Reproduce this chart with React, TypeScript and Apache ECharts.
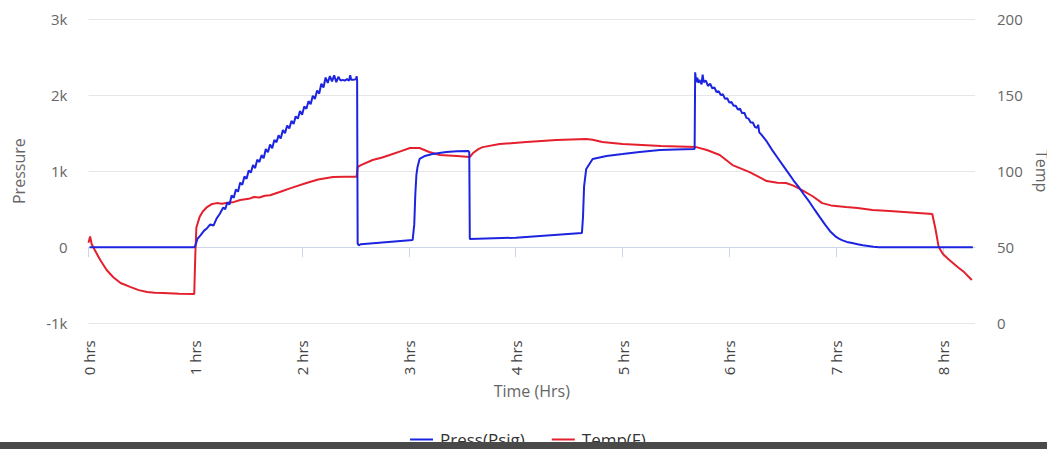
import React, { useEffect, useRef } from "react";
import * as echarts from "echarts";

const xTicks = [0, 1, 2, 3, 4, 5, 6, 7, 8];
const pressTicks = [-1000, 0, 1000, 2000, 3000];
const tempTicks = [0, 50, 100, 150, 200];

const pressHours = [
  0.01, 0.99, 1.0, 1.02, 1.05, 1.08, 1.11, 1.14, 1.17, 1.2, 1.23, 1.26, 1.28, 1.3, 1.32, 1.34, 1.36, 1.38, 1.4,
  1.42, 1.44, 1.46, 1.48, 1.5, 1.52, 1.54, 1.56, 1.58, 1.6, 1.62, 1.64, 1.66, 1.68, 1.7, 1.72, 1.74, 1.76, 1.78,
  1.8, 1.82, 1.84, 1.86, 1.88, 1.9, 1.92, 1.94, 1.96, 1.98, 2.0, 2.02, 2.04, 2.06, 2.08, 2.1, 2.12, 2.14, 2.16,
  2.18, 2.2, 2.22, 2.24, 2.26, 2.28, 2.3, 2.32, 2.34, 2.36, 2.38, 2.4, 2.42, 2.44, 2.45, 2.46, 2.48, 2.505, 2.51,
  2.515, 2.52, 2.53, 2.55, 3.035, 3.05, 3.06, 3.07, 3.08, 3.1, 3.15, 3.22, 3.35, 3.45, 3.555, 3.565, 3.57, 4.0,
  4.62, 4.63, 4.64, 4.66, 4.72, 4.85, 5.0, 5.16, 5.35, 5.5, 5.675, 5.68, 5.69, 5.7, 5.71, 5.72, 5.74, 5.75, 5.76,
  5.78, 5.8, 5.82, 5.84, 5.86, 5.88, 5.9, 5.92, 5.94, 5.96, 5.98, 6.0, 6.02, 6.04, 6.06, 6.08, 6.1, 6.12, 6.14,
  6.16, 6.18, 6.2, 6.22, 6.24, 6.26, 6.27, 6.28, 6.3, 6.35, 6.4, 6.45, 6.5, 6.55, 6.6, 6.65, 6.7, 6.75, 6.8,
  6.85, 6.9, 6.95, 7.0, 7.03, 7.06, 7.1, 7.15, 7.2, 7.25, 7.3, 7.35, 7.4, 8.28,
];
const pressPsig = [
  0, 0, 20, 110, 160, 215, 250, 300, 285, 380, 440, 520, 500, 590, 560, 680, 650, 760, 730,
  850, 820, 930, 900, 1010, 980, 1080, 1040, 1150, 1120, 1210, 1170, 1290, 1250, 1350, 1300, 1410, 1380, 1470,
  1430, 1540, 1500, 1600, 1560, 1660, 1620, 1720, 1690, 1790, 1740, 1850, 1820, 1920, 1880, 1990, 1950, 2060, 2020,
  2150, 2100, 2230, 2160, 2250, 2180, 2260, 2170, 2240, 2190, 2200, 2190, 2210, 2190, 2260, 2200, 2200, 2210, 2250,
  2200, 50, 25, 40, 96, 300, 700, 950, 1050, 1160, 1200, 1226, 1252, 1260, 1265, 1250, 109, 125,
  188, 400, 800, 1029, 1160, 1200, 1225, 1252, 1279, 1285, 1290, 2300, 2170, 2230, 2160, 2200, 2140, 2270, 2170,
  2190, 2120, 2150, 2090, 2100, 2040, 2050, 2000, 2010, 1950, 1960, 1900, 1910, 1860, 1860, 1810, 1820, 1760, 1770,
  1700, 1690, 1640, 1640, 1580, 1570, 1610, 1510, 1480, 1390, 1280, 1180, 1080, 980, 880, 790, 690, 595, 490,
  390, 290, 200, 135, 110, 90, 70, 55, 40, 25, 15, 5, 0, 0,
];

const tempHours = [
  0.0, 0.015, 0.03, 0.06, 0.11, 0.17, 0.23, 0.3, 0.39, 0.47, 0.55, 0.62, 0.7, 0.85, 0.99, 1.0, 1.01, 1.04, 1.07,
  1.11, 1.15, 1.2, 1.25, 1.3, 1.35, 1.42, 1.5, 1.55, 1.6, 1.65, 1.7, 1.79, 1.9, 2.04, 2.15, 2.29, 2.4, 2.51, 2.52,
  2.55, 2.66, 2.75, 2.82, 2.92, 3.01, 3.1, 3.19, 3.29, 3.45, 3.57, 3.6, 3.65, 3.69, 3.85, 4.1, 4.38, 4.66, 4.72,
  4.81, 5.0, 5.36, 5.69, 5.79, 5.91, 6.03, 6.19, 6.35, 6.45, 6.53, 6.6, 6.68, 6.78, 6.87, 6.95, 7.09, 7.2, 7.34,
  7.5, 7.7, 7.9, 7.93, 7.96, 8.0, 8.06, 8.14, 8.2, 8.27,
];
const tempF = [
  53, 57, 52, 48, 41.6, 35, 30.4, 26.5, 23.9, 21.8, 20.6, 20.1, 19.9, 19.5, 19.3, 45, 63, 69.8, 73.5,
  76.4, 78.2, 79, 78.6, 79.2, 79.5, 81, 81.8, 83, 82.7, 83.8, 84.2, 86.3, 89, 92.2, 94.5, 96.2, 96.4, 96.3, 102.7,
  104, 107.3, 109, 110.6, 113, 115.2, 115.2, 112.6, 110.6, 109.9, 109.3, 111.9, 114.5, 115.8, 117.8, 119.1, 120.4, 121.1, 120.6,
  119.1, 117.8, 116.5, 115.8, 113.9, 110.6, 104, 99.4, 93.5, 92.4, 92.2, 90.5, 87.6, 83.5, 79, 77.5, 76.4, 75.8, 74.4,
  73.8, 72.8, 71.8, 62, 50.1, 45.5, 41.6, 36.8, 33.5, 28.5,
];

const FONT = "Open Sans";

export default function App() {
  const ref = useRef<HTMLDivElement>(null);
  useEffect(() => {
    if (!ref.current) return;
    const chart = echarts.init(ref.current, undefined, { renderer: "svg", width: 1047, height: 449 });
    const pressData = pressHours.map((t, i) => [t, pressPsig[i]]);
    const tempData = tempHours.map((t, i) => [t, tempF[i]]);
    chart.setOption({
      animation: false,
      backgroundColor: "#ffffff",
      grid: { left: 88.5, right: 72, top: 19, bottom: 125.7, containLabel: false, outerBoundsMode: "none" },
      legend: {
        data: ["Press(Psig)", "Temp(F)"],
        left: 405,
        top: 426,
        icon: "rect",
        itemWidth: 23,
        itemHeight: 2,
        itemGap: 27,
        textStyle: { fontFamily: FONT, fontSize: 17, color: "#333", padding: [0, 0, 0, 2] },
      },
      xAxis: {
        type: "value",
        min: 0,
        max: 8.3,
        interval: 1,
        name: "Time (Hrs)",
        nameLocation: "middle",
        nameGap: 56,
        nameTextStyle: { fontFamily: FONT, fontSize: 16, color: "#666" },
        axisLine: { show: true, lineStyle: { color: "#ccd6eb", width: 1 } },
        axisTick: { show: true, length: 10, lineStyle: { color: "#ccd6eb" }, customValues: xTicks },
        splitLine: { show: false },
        axisLabel: {
          customValues: xTicks,
          rotate: 90,
          margin: 17,
          fontFamily: FONT,
          fontSize: 15,
          color: "#444",
          formatter: (v: number) => `${v} hrs`,
        },
      },
      yAxis: [
        {
          type: "value",
          min: pressTicks[0],
          max: pressTicks[pressTicks.length - 1],
          interval: 1000,
          name: "Pressure",
          nameLocation: "middle",
          nameRotate: 90,
          nameGap: 62,
          nameTextStyle: { fontFamily: FONT, fontSize: 16, color: "#666" },
          axisLine: { show: false },
          axisTick: { show: false },
          splitLine: { lineStyle: { color: "#e6e6e6", width: 1 } },
          axisLabel: {
            margin: 21,
            fontFamily: FONT,
            fontSize: 15,
            color: "#666",
            formatter: (v: number) => (v === 0 ? "0" : `${v / 1000}k`),
          },
        },
        {
          type: "value",
          min: tempTicks[0],
          max: tempTicks[tempTicks.length - 1],
          interval: 50,
          name: "Temp",
          nameLocation: "middle",
          nameRotate: -90,
          nameGap: 50,
          nameTextStyle: { fontFamily: FONT, fontSize: 16, color: "#666" },
          axisLine: { show: false },
          axisTick: { show: false },
          splitLine: { show: false },
          axisLabel: { margin: 22, fontFamily: FONT, fontSize: 15, color: "#666" },
        },
      ],
      series: [
        {
          name: "Press(Psig)",
          type: "line",
          yAxisIndex: 0,
          data: pressData,
          symbol: "none",
          z: 3,
          lineStyle: { color: "#1c24e0", width: 2 },
          itemStyle: { color: "#1c24e0" },
        },
        {
          name: "Temp(F)",
          type: "line",
          yAxisIndex: 1,
          data: tempData,
          symbol: "none",
          z: 2,
          lineStyle: { color: "#e5202e", width: 2 },
          itemStyle: { color: "#e5202e" },
        },
      ],
      graphic: [
        {
          type: "rect",
          left: 0,
          top: 442,
          z: 100,
          shape: { width: 1047, height: 7 },
          style: { fill: "#4a4a4a" },
        },
      ],
    });
    return () => chart.dispose();
  }, []);
  return <div ref={ref} style={{ position: "fixed", left: 0, top: 0, width: 1047, height: 449 }} />;
}
